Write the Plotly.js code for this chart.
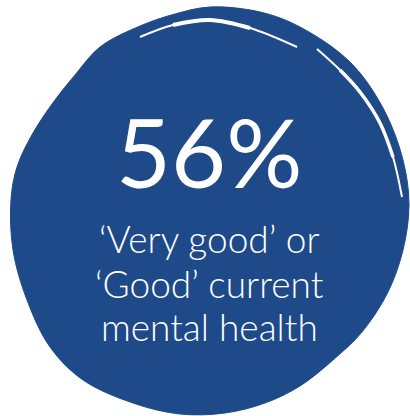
<!DOCTYPE html>
<html>
<head>
<meta charset="utf-8">
<script src="https://cdn.plot.ly/plotly-3.0.1.min.js"></script>
<style>html,body{margin:0;padding:0;background:#fff;}#chart{width:410px;height:416px;}</style>
</head>
<body>
<div id="chart"></div>
<script>
// Headline value and caption
const headlineValue = 56;
const captionLines = ["\u2018Very good\u2019 or", "\u2018Good\u2019 current", "mental health"];

// Blob outline (decorative badge shape)
const blobX = [210,260,300,350,383,403,409,403,388,362,333,300,265,225,180,133,83,50,27,13,11,17,33,55,75,100,140,175,210];
const blobY = [7,12,27,62,108,160,205,250,292,332,360,386,403,413,414,403,380,347,300,250,200,167,133,100,75,47,26,14,7];

// Decorative highlight arcs
const arc1X = [140,173,210,250,297];
const arc1Y = [37,25,20,28,47];
const arc2X = [317,340,360,380,393,402];
const arc2Y = [49,70,92,123,157,197];

const blue = "#1e4a8a";
const traces = [
  {x: blobX, y: blobY, mode: "lines", fill: "toself", fillcolor: blue,
   line: {color: blue, width: 1, shape: "spline", smoothing: 1}, hoverinfo: "skip"},
  {x: arc1X, y: arc1Y, mode: "lines", line: {color: "#ffffff", width: 2, shape: "spline"}, hoverinfo: "skip"},
  {x: arc1X.slice(1,4), y: arc1Y.slice(1,4), mode: "lines", line: {color: "#ffffff", width: 4, shape: "spline"}, hoverinfo: "skip"},
  {x: arc2X, y: arc2Y, mode: "lines", line: {color: "#ffffff", width: 2, shape: "spline"}, hoverinfo: "skip"},
  {x: arc2X.slice(1,5), y: arc2Y.slice(1,5), mode: "lines", line: {color: "#ffffff", width: 3.5, shape: "spline"}, hoverinfo: "skip"}
];

const textFont = {family: "Lato, 'Open Sans', sans-serif", color: "#ffffff"};
const annotations = [
  {x: 209, y: 151, xref: "x", yref: "y", text: headlineValue + "%", showarrow: false,
   font: Object.assign({}, textFont, {size: 95}), xanchor: "center", yanchor: "middle"}
];
const lineY = [238, 283, 326];
captionLines.forEach((t, i) => {
  annotations.push({x: 209, y: lineY[i], xref: "x", yref: "y", text: t, showarrow: false,
    font: Object.assign({}, textFont, {size: 37, weight: 300}), xanchor: "center", yanchor: "middle"});
});

const layout = {
  width: 410, height: 416,
  margin: {l: 0, r: 0, t: 0, b: 0},
  paper_bgcolor: "#ffffff", plot_bgcolor: "#ffffff",
  showlegend: false,
  xaxis: {range: [0, 410], visible: false, fixedrange: true},
  yaxis: {range: [416, 0], visible: false, fixedrange: true},
  annotations: annotations
};
Plotly.newPlot("chart", traces, layout, {staticPlot: true, displayModeBar: false});
</script>
</body>
</html>
